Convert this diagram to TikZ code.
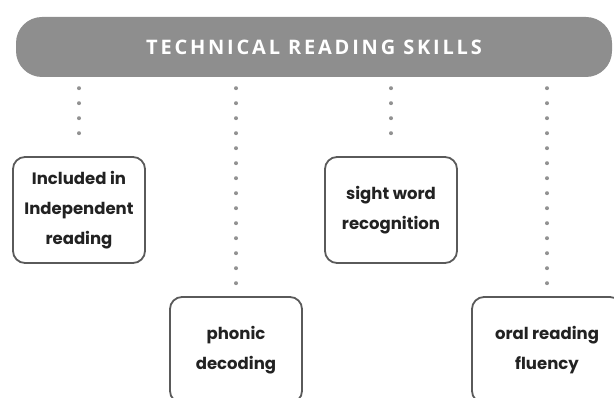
\documentclass[tikz,border=0pt]{standalone}
\usepackage{fontspec}
\setmainfont{Poppins}
\newfontfamily\headfont[LetterSpace=14]{Open Sans}
\usetikzlibrary{positioning}
\definecolor{bannergray}{HTML}{8E8E8E}
\definecolor{boxline}{HTML}{5A5A5A}
\definecolor{boxtext}{HTML}{222222}
\definecolor{dotgray}{HTML}{929292}

\begin{document}
\begin{tikzpicture}[x=1pt, y=-1pt,
    banner/.style={fill=bannergray, rounded corners=26pt, minimum width=596pt, minimum height=60pt,
      text=white, font=\headfont\bfseries\fontsize{20}{23}\selectfont},
    skill/.style={draw=boxline, line width=1.8pt, rounded corners=12pt, minimum width=132pt,
      minimum height=106pt, align=center, text=boxtext, font=\fontsize{16.5}{30}\selectfont\bfseries},
    dots/.style={dotgray, line width=4pt, line cap=round, dash pattern=on 0pt off 15pt,
      shorten <=11pt, shorten >=9pt}]
  \clip (0,0) rectangle (614,398);
  \useasboundingbox (0,0) rectangle (614,398);
  \node[banner] (title) at (314,47) {TECHNICAL READING SKILLS};
  \node[skill] (indep) at (79,210) {Included in\\Independent\\reading};
  \node[skill] (phonic) at (236,350) {phonic\\decoding};
  \node[skill] (sight) at (391,210) {sight word\\recognition};
  \node[skill, minimum width=150pt] (oral) at (547,350) {oral reading\\fluency};
  \foreach \b in {indep, phonic, sight, oral} {
    \draw[dots] (title.south -| \b.north) -- (\b.north);
  }
\end{tikzpicture}
\end{document}
